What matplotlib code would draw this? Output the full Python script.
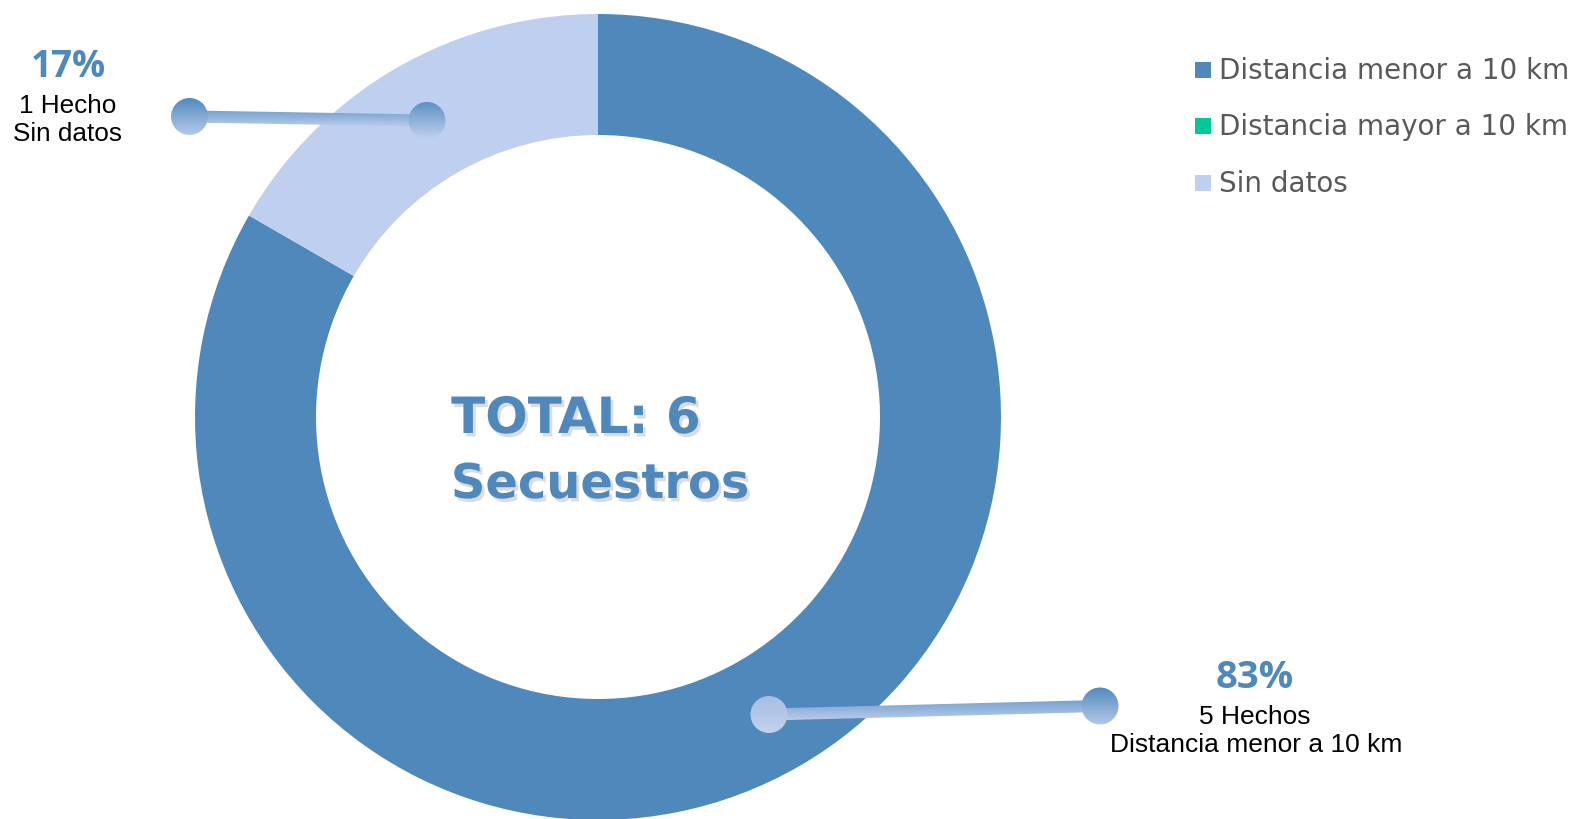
import numpy as np
import matplotlib
matplotlib.use("Agg")
import matplotlib.pyplot as plt
import matplotlib.patheffects as pe
from matplotlib.colors import LinearSegmentedColormap
from matplotlib.patches import Circle, Polygon, Rectangle


""" data """

labels = ["Distancia menor a 10 km", "Distancia mayor a 10 km", "Sin datos"]
hechos = [5, 0, 1]
colors = ["#4F89BC", "#00C896", "#BFCFEF"]
total = sum(hechos)


""" settings """

W, H = 1583, 819
blue = "#4F89BC"
bold_font = "DejaVu Sans"
pct_font = "Open Sans"
legend_font = "DejaVu Sans"
label_font = "Liberation Sans"


def Y(y):
    # pixel row (from top) -> data y
    return H - y


def gradient_fill(ax, patch, c_top, c_bot, z=3):
    patch.set_facecolor("none")
    patch.set_edgecolor("none")
    ax.add_patch(patch)
    ext = patch.get_path().transformed(patch.get_patch_transform()).get_extents()
    cmap = LinearSegmentedColormap.from_list("g", [c_bot, c_top])
    im = ax.imshow(np.linspace(0, 1, 200).reshape(-1, 1), cmap=cmap,
                   extent=(ext.x0 - 3, ext.x1 + 3, ext.y0 - 1, ext.y1 + 1),
                   origin="lower", aspect="auto", interpolation="bilinear",
                   zorder=z)
    im.set_clip_path(patch)


def connector(ax, p_in, p_out, c_in, c_out, r=18.5, lw=12):
    (x0, y0), (x1, y1) = p_in, p_out
    d = np.array([x1 - x0, y1 - y0], dtype=float)
    n = np.array([-d[1], d[0]]) / np.hypot(*d) * lw / 2
    pts = [(x0 + n[0], Y(y0) - n[1]), (x1 + n[0], Y(y1) - n[1]),
           (x1 - n[0], Y(y1) + n[1]), (x0 - n[0], Y(y0) + n[1])]
    gradient_fill(ax, Polygon(pts, closed=True), "#6E9DCC", "#BCCDEC")
    gradient_fill(ax, Circle((x0, Y(y0)), r), *c_in, z=4)
    gradient_fill(ax, Circle((x1, Y(y1)), r), *c_out, z=4)


""" plot """

fig = plt.figure(figsize=(W / 100, H / 100), dpi=100)
ax = fig.add_axes([0, 0, 1, 1])

ax.pie(hechos, colors=colors, startangle=90, counterclock=False,
       radius=403, center=(598, Y(417)),
       wedgeprops=dict(width=121, linewidth=0))

# center text
shadow = [pe.SimplePatchShadow(offset=(2, -2.5), shadow_rgbFace="#777777", alpha=0.25),
          pe.Normal()]
ax.text(576, Y(433), f"TOTAL: {total}", color=blue, fontsize=36,
        fontfamily=bold_font, fontweight="bold", ha="center", va="baseline",
        path_effects=shadow, zorder=5)
ax.text(600, Y(498), "Secuestros", color=blue, fontsize=34.5,
        fontfamily=bold_font, fontweight="bold", ha="center", va="baseline",
        path_effects=shadow, zorder=5)

# connectors
connector(ax, (427, 120.5), (189.5, 116.5),
          ("#5A8FC2", "#C3D2EE"), ("#4F89BC", "#B9CBEB"))
connector(ax, (769, 714.5), (1100, 706),
          ("#A7BDE3", "#C3D2EE"), ("#4F89BC", "#B4C8EA"))

# labels
pct = [round(100 * v / total) for v in hechos]
ax.text(68, Y(77), f"{pct[2]}%", color=blue, fontsize=26.5,
        fontfamily=pct_font, fontweight="bold", ha="center", va="baseline")
ax.text(68, Y(113.3), f"{hechos[2]} Hecho", color="black", fontsize=18.8,
        fontfamily=label_font, ha="center", va="baseline")
ax.text(68, Y(140.7), labels[2], color="black", fontsize=18.8,
        fontfamily=label_font, ha="center", va="baseline")

ax.text(1255, Y(688), f"{pct[0]}%", color=blue, fontsize=27.5,
        fontfamily=pct_font, fontweight="bold", ha="center", va="baseline")
ax.text(1255, Y(724), f"{hechos[0]} Hechos", color="black", fontsize=19,
        fontfamily=label_font, ha="center", va="baseline")
ax.text(1256, Y(752.3), labels[0], color="black", fontsize=19,
        fontfamily=label_font, ha="center", va="baseline")

# legend
for i, (lab, col) in enumerate(zip(labels, colors)):
    yy = 70 + i * 56.3
    ax.add_patch(Rectangle((1195, Y(yy) - 8), 16.5, 16, facecolor=col,
                           edgecolor="none"))
    ax.text(1219, Y(yy + 9), lab, color="#595959", fontsize=20,
            fontfamily=legend_font, ha="left", va="baseline")

ax.set_xlim(0, W)
ax.set_ylim(0, H)
ax.set_aspect("equal")
ax.set_axis_off()

fig.savefig("out.png", dpi=100)
